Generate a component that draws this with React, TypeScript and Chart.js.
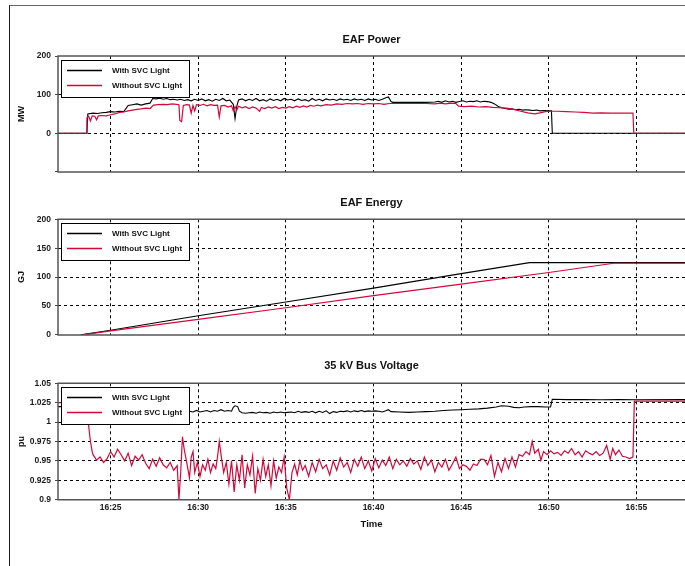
import React, { useEffect, useRef } from "react";
import { Chart, registerables } from "chart.js";

Chart.register(...registerables);

type Pair = [number, number];

const FONT = '"Liberation Sans", Arial, Helvetica, sans-serif';
const BLACK = "#000000";
const RED = "#d1093b";

const seriesLabels = ["With SVC Light", "Without SVC Light"];

// time in minutes after 16:00
const timeMin = 22;
const timeMax = 57.77;
const timeTicks = [25, 30, 35, 40, 45, 50, 55];
const timeTickLabels = ["16:25", "16:30", "16:35", "16:40", "16:45", "16:50", "16:55"];

const powerTicks = [-100, 0, 100, 200];
const powerTickLabels = ["", "0", "100", "200"];
const energyTicks = [0, 50, 100, 150, 200];
const energyTickLabels = ["0", "50", "100", "150", "200"];
const voltTicks = [0.9, 0.925, 0.95, 0.975, 1, 1.025, 1.05];
const voltTickLabels = ["0.9", "0.925", "0.95", "0.975", "1", "1.025", "1.05"];

// EAF Power (MW)
const powerWith: Pair[] = [
  [22, 0], [23.65, 0], [23.7, 50], [24.0, 52], [24.25, 51], [24.5, 53], [24.75, 54], [25.0, 56],
  [25.25, 55], [25.5, 57], [25.75, 56], [26.0, 72], [26.25, 74], [26.5, 76], [26.75, 73], [27.0, 76],
  [27.25, 78], [27.4, 90], [27.6, 89], [27.8, 91], [28.0, 88], [28.2, 90], [28.4, 87], [28.6, 88],
  [28.8, 86], [29.0, 88], [29.2, 85], [29.4, 87], [29.6, 84], [29.8, 88], [30.0, 85], [30.2, 89],
  [30.4, 84], [30.6, 87], [30.8, 83], [31.0, 88], [31.2, 85], [31.4, 90], [31.6, 84], [31.8, 86],
  [32.0, 75], [32.1, 38], [32.2, 70], [32.3, 86], [32.5, 89], [32.7, 84], [32.9, 88], [33.1, 85],
  [33.3, 90], [33.5, 84], [33.7, 87], [33.9, 83], [34.1, 89], [34.3, 85], [34.5, 88], [34.7, 84],
  [34.9, 90], [35.1, 86], [35.3, 88], [35.5, 84], [35.7, 89], [35.9, 85], [36.1, 87], [36.3, 83],
  [36.5, 90], [36.7, 85], [36.9, 88], [37.1, 84], [37.3, 89], [37.5, 86], [37.7, 88], [37.9, 85],
  [38.1, 89], [38.3, 86], [38.5, 88], [38.7, 85], [38.9, 89], [39.1, 86], [39.3, 88], [39.5, 85],
  [39.7, 89], [39.9, 86], [40.1, 88], [40.3, 85], [40.5, 88], [40.7, 92], [40.85, 94], [41.0, 82],
  [41.1, 80], [42.0, 80], [43.0, 80], [43.5, 81], [43.7, 83], [43.9, 80], [44.1, 84], [44.3, 81],
  [44.5, 83], [44.7, 80], [44.9, 82], [45.1, 84], [45.3, 81], [45.5, 83], [45.7, 82], [45.9, 84],
  [46.1, 81], [46.3, 83], [46.5, 82], [46.7, 80], [46.9, 76], [47.1, 70], [47.3, 66], [47.5, 64],
  [47.7, 62], [47.9, 63], [48.1, 61], [48.3, 62], [48.5, 60], [48.7, 61], [48.9, 60], [49.1, 59],
  [49.3, 60], [49.5, 58], [49.7, 59], [50.0, 58], [50.15, 58], [50.2, 0], [57.77, 0],
];

const powerWithout: Pair[] = [
  [22, 0], [23.6, 0], [23.65, 40], [23.75, 44], [23.85, 32], [23.95, 45], [24.1, 44], [24.2, 35],
  [24.3, 45], [24.5, 46], [24.75, 45], [25.0, 48], [25.25, 50], [25.5, 54], [25.75, 55], [26.0, 58],
  [26.25, 60], [26.5, 62], [26.75, 63], [27.0, 65], [27.25, 64], [27.45, 73], [27.7, 74], [28.0, 75],
  [28.25, 74], [28.5, 76], [28.75, 75], [28.9, 74], [28.95, 33], [29.05, 30], [29.15, 72], [29.35, 74],
  [29.5, 73], [29.6, 52], [29.7, 72], [29.8, 58], [29.9, 74], [30.1, 72], [30.3, 75], [30.5, 71],
  [30.7, 74], [30.9, 72], [31.1, 73], [31.2, 42], [31.3, 71], [31.5, 72], [31.7, 68], [31.9, 71],
  [32.0, 58], [32.1, 69], [32.2, 60], [32.3, 70], [32.5, 66], [32.7, 69], [32.9, 64], [33.1, 68],
  [33.3, 65], [33.5, 57], [33.6, 67], [33.8, 64], [34.0, 68], [34.2, 65], [34.4, 69], [34.6, 64],
  [34.8, 67], [35.0, 65], [35.2, 69], [35.4, 66], [35.6, 70], [35.8, 67], [36.0, 71], [36.2, 68],
  [36.4, 72], [36.6, 70], [36.8, 73], [37.0, 71], [37.3, 74], [37.6, 73], [37.9, 76], [38.2, 75],
  [38.5, 77], [38.8, 76], [39.1, 77], [39.4, 75], [39.7, 77], [40.0, 76], [40.3, 77], [40.6, 75],
  [40.9, 77], [41.2, 77], [42.0, 77], [43.0, 77], [43.5, 76], [43.8, 78], [44.1, 76], [44.4, 78],
  [44.7, 77], [44.85, 70], [45.2, 69], [45.6, 70], [46.0, 68], [46.4, 69], [46.8, 67], [47.2, 66],
  [47.6, 65], [48.0, 62], [48.4, 57], [48.8, 53], [49.2, 50], [49.5, 53], [49.8, 56], [50.0, 57],
  [50.5, 57], [51.0, 56], [51.5, 55], [52.0, 54], [52.5, 52], [53.0, 53], [53.5, 52], [54.0, 52],
  [54.5, 52], [54.8, 52], [54.85, 0], [57.77, 0],
];

// EAF Energy (GJ)
const energyWith: Pair[] = [
  [23.3, 0], [25, 8], [30, 33], [35, 57], [40, 81], [45, 106], [48.9, 125], [57.77, 125],
];
const energyWithout: Pair[] = [
  [23.4, 0], [25, 7], [30, 27], [35, 47], [40, 68], [45, 88], [50, 108], [53.7, 124], [57.77, 124],
];

// 35 kV Bus Voltage (pu)
const voltWith: Pair[] = [
  [22, 1.02], [23.65, 1.02], [23.7, 1.014], [25, 1.0145], [26, 1.0135], [27, 1.0145], [28, 1.014],
  [29, 1.0135], [29.5, 1.014], [29.7, 1.013], [29.9, 1.015], [30.1, 1.013], [30.3, 1.014], [30.5, 1.015],
  [30.7, 1.013], [30.9, 1.015], [31.1, 1.014], [31.3, 1.016], [31.5, 1.014], [31.7, 1.015], [31.9, 1.014],
  [32.0, 1.019], [32.1, 1.021], [32.25, 1.02], [32.35, 1.014], [32.5, 1.012], [32.7, 1.0115], [32.9, 1.012],
  [33.1, 1.0125], [33.3, 1.0115], [33.5, 1.013], [33.7, 1.012], [33.9, 1.0125], [34.1, 1.0115], [34.3, 1.013],
  [34.5, 1.012], [34.7, 1.013], [34.9, 1.012], [35.1, 1.0125], [35.3, 1.013], [35.5, 1.012], [35.7, 1.014],
  [35.9, 1.0125], [36.1, 1.0135], [36.3, 1.0125], [36.5, 1.014], [36.7, 1.012], [36.9, 1.014], [37.1, 1.0125],
  [37.3, 1.0145], [37.5, 1.011], [37.7, 1.0135], [37.9, 1.0125], [38.1, 1.014], [38.3, 1.0135], [38.5, 1.0145],
  [38.7, 1.013], [38.9, 1.0145], [39.1, 1.0135], [39.3, 1.015], [39.5, 1.0135], [39.7, 1.0145], [39.9, 1.014],
  [40.1, 1.0145], [40.3, 1.014], [40.5, 1.013], [40.7, 1.0145], [40.85, 1.016], [41.0, 1.0135], [41.5, 1.013],
  [42.0, 1.0125], [42.5, 1.013], [43.0, 1.0135], [43.5, 1.014], [44.0, 1.015], [44.5, 1.0155], [45.0, 1.016],
  [45.5, 1.0165], [46.0, 1.017], [46.5, 1.018], [47.0, 1.0195], [47.3, 1.021], [47.7, 1.0205], [48.0, 1.019],
  [48.3, 1.0185], [48.6, 1.0195], [49.0, 1.02], [49.4, 1.02], [49.8, 1.0195], [50.1, 1.0195], [50.2, 1.0295],
  [51.0, 1.029], [52.0, 1.0292], [53.0, 1.0288], [54.0, 1.029], [55.0, 1.0288], [57.77, 1.029],
];

const voltWithout: Pair[] = [
  [22, 1.025], [23.55, 1.025], [23.65, 1.015], [23.75, 0.995], [23.85, 0.975], [23.95, 0.962],
  [24.0, 0.958], [24.2, 0.951], [24.4, 0.955], [24.6, 0.948], [24.8, 0.953], [25.0, 0.962], [25.2, 0.955],
  [25.4, 0.965], [25.6, 0.958], [25.8, 0.95], [26.0, 0.96], [26.2, 0.944], [26.4, 0.956], [26.6, 0.951],
  [26.8, 0.958], [27.0, 0.947], [27.2, 0.94], [27.4, 0.952], [27.6, 0.943], [27.8, 0.954], [28.0, 0.945],
  [28.2, 0.941], [28.4, 0.948], [28.6, 0.938], [28.8, 0.944], [28.9, 0.9], [29.0, 0.935], [29.1, 0.981],
  [29.2, 0.965], [29.35, 0.947], [29.5, 0.928], [29.6, 0.955], [29.7, 0.962], [29.8, 0.935], [29.95, 0.948],
  [30.1, 0.93], [30.25, 0.945], [30.4, 0.938], [30.55, 0.952], [30.7, 0.935], [30.85, 0.946], [31.0, 0.94],
  [31.1, 0.955], [31.2, 0.975], [31.3, 0.958], [31.45, 0.935], [31.6, 0.948], [31.75, 0.92], [31.9, 0.95],
  [32.05, 0.91], [32.2, 0.945], [32.35, 0.925], [32.5, 0.958], [32.65, 0.915], [32.8, 0.945], [32.95, 0.932],
  [33.1, 0.956], [33.25, 0.908], [33.4, 0.94], [33.55, 0.925], [33.7, 0.952], [33.85, 0.93], [34.0, 0.945],
  [34.15, 0.918], [34.3, 0.95], [34.45, 0.928], [34.6, 0.942], [34.75, 0.935], [34.9, 0.955], [35.05, 0.915],
  [35.2, 0.9], [35.35, 0.935], [35.5, 0.946], [35.65, 0.932], [35.8, 0.95], [35.95, 0.938], [36.1, 0.944],
  [36.3, 0.93], [36.5, 0.948], [36.7, 0.936], [36.9, 0.952], [37.1, 0.94], [37.3, 0.945], [37.5, 0.932],
  [37.7, 0.95], [37.9, 0.938], [38.1, 0.954], [38.3, 0.942], [38.5, 0.948], [38.7, 0.935], [38.9, 0.952],
  [39.1, 0.943], [39.3, 0.955], [39.5, 0.94], [39.7, 0.95], [39.9, 0.937], [40.1, 0.953], [40.3, 0.941],
  [40.5, 0.951], [40.7, 0.944], [40.9, 0.955], [41.1, 0.94], [41.3, 0.952], [41.5, 0.945], [41.7, 0.95],
  [41.9, 0.943], [42.1, 0.953], [42.3, 0.946], [42.5, 0.95], [42.7, 0.939], [42.9, 0.955], [43.1, 0.944],
  [43.3, 0.951], [43.5, 0.936], [43.7, 0.948], [43.9, 0.942], [44.1, 0.952], [44.3, 0.938], [44.5, 0.946],
  [44.7, 0.955], [44.9, 0.94], [45.1, 0.945], [45.3, 0.943], [45.5, 0.938], [45.7, 0.946], [45.9, 0.944],
  [46.1, 0.952], [46.3, 0.952], [46.5, 0.945], [46.7, 0.957], [46.9, 0.93], [47.1, 0.948], [47.3, 0.936],
  [47.5, 0.953], [47.7, 0.94], [47.9, 0.955], [48.1, 0.942], [48.3, 0.958], [48.5, 0.956], [48.7, 0.962],
  [48.9, 0.958], [49.05, 0.975], [49.2, 0.96], [49.4, 0.965], [49.55, 0.951], [49.7, 0.962], [49.9, 0.958],
  [50.1, 0.963], [50.3, 0.959], [50.5, 0.961], [50.7, 0.957], [50.9, 0.963], [51.1, 0.96], [51.3, 0.966],
  [51.5, 0.958], [51.7, 0.962], [51.9, 0.955], [52.1, 0.963], [52.3, 0.96], [52.5, 0.958], [52.7, 0.962],
  [52.9, 0.957], [53.1, 0.96], [53.3, 0.97], [53.5, 0.952], [53.65, 0.966], [53.8, 0.958], [54.0, 0.964],
  [54.2, 0.956], [54.4, 0.955], [54.6, 0.953], [54.8, 0.955], [54.88, 1.027], [57.77, 1.027],
];

interface PanelSpec {
  title: string;
  yTitle: string;
  yMin: number;
  yMax: number;
  yTicks: number[];
  yTickLabels: string[];
  withData: Pair[];
  withoutData: Pair[];
  titleTop: number;
  titleBottom: number;
  xHeight: number;
  showX: boolean;
  top: number;
  height: number;
}

const panels: PanelSpec[] = [
  {
    title: "EAF Power", yTitle: "MW", yMin: -100, yMax: 200,
    yTicks: powerTicks, yTickLabels: powerTickLabels,
    withData: powerWith, withoutData: powerWithout,
    titleTop: 13.4, titleBottom: 9.4, xHeight: 8, showX: false, top: 20, height: 161,
  },
  {
    title: "EAF Energy", yTitle: "GJ", yMin: 0, yMax: 200,
    yTicks: energyTicks, yTickLabels: energyTickLabels,
    withData: energyWith, withoutData: energyWithout,
    titleTop: 13.7, titleBottom: 9.4, xHeight: 8, showX: false, top: 183, height: 161,
  },
  {
    title: "35 kV Bus Voltage", yTitle: "pu", yMin: 0.9, yMax: 1.05,
    yTicks: voltTicks, yTickLabels: voltTickLabels,
    withData: voltWith, withoutData: voltWithout,
    titleTop: 13.4, titleBottom: 10.7, xHeight: 32.3, showX: true, top: 346, height: 186,
  },
];

const panelDecor = {
  id: "panelDecor",
  afterDatasetsDraw(chart: any) {
    const { ctx, chartArea: a } = chart;
    ctx.save();
    // legend box
    const lx = a.left + 3;
    const ly = a.top + 4;
    const lw = 128;
    const lh = 37;
    ctx.setLineDash([]);
    ctx.fillStyle = "#ffffff";
    ctx.fillRect(lx, ly, lw, lh);
    ctx.strokeStyle = "#000000";
    ctx.lineWidth = 1;
    ctx.strokeRect(Math.round(lx) + 0.5, Math.round(ly) + 0.5, lw, lh);
    chart.data.datasets.forEach((ds: any, i: number) => {
      const yy = Math.round(ly + 10 + i * 15) + 0.5;
      ctx.strokeStyle = ds.borderColor;
      ctx.lineWidth = 1.6;
      ctx.beginPath();
      ctx.moveTo(lx + 6, yy);
      ctx.lineTo(lx + 41, yy);
      ctx.stroke();
      ctx.fillStyle = "#111111";
      ctx.font = `bold 8px ${FONT}`;
      ctx.textAlign = "left";
      ctx.textBaseline = "middle";
      ctx.fillText(ds.label, lx + 51, yy);
    });
    // plot frame (top, left, bottom)
    ctx.strokeStyle = "#555555";
    ctx.lineWidth = 1.5;
    ctx.beginPath();
    ctx.moveTo(a.right + 2, a.top);
    ctx.lineTo(a.left, a.top);
    ctx.lineTo(a.left, a.bottom);
    ctx.lineTo(a.right + 2, a.bottom);
    ctx.stroke();
    ctx.restore();
  },
};

function buildConfig(spec: PanelSpec): any {
  const toXY = (d: Pair[]) => d.map(([x, y]) => ({ x, y }));
  return {
    type: "line",
    data: {
      datasets: [
        {
          label: seriesLabels[0], data: toXY(spec.withData), borderColor: BLACK,
          borderWidth: 1.1, pointRadius: 0, tension: 0, fill: false, order: 1,
        },
        {
          label: seriesLabels[1], data: toXY(spec.withoutData), borderColor: RED,
          borderWidth: 1.2, pointRadius: 0, tension: 0, fill: false, order: 0,
        },
      ],
    },
    options: {
      responsive: false,
      animation: false,
      events: [],
      layout: { padding: 0 },
      plugins: {
        legend: { display: false },
        tooltip: { enabled: false },
        title: {
          display: true, text: spec.title, fullSize: false, color: "#111111",
          font: { family: FONT, size: 11, weight: "bold", lineHeight: 1.2 },
          padding: { top: spec.titleTop, bottom: spec.titleBottom },
        },
      },
      scales: {
        x: {
          type: "linear", min: timeMin, max: timeMax,
          afterBuildTicks: (s: any) => { s.ticks = timeTicks.map((v) => ({ value: v })); },
          afterFit: (s: any) => { s.height = spec.xHeight; },
          grid: { color: "#000000", lineWidth: 1, drawTicks: false },
          border: { display: false, dash: [3, 3] },
          ticks: {
            display: spec.showX, autoSkip: false, maxRotation: 0, padding: 3, color: "#1a1a1a",
            font: { family: FONT, size: 8.5, weight: "bold" },
            callback: (_v: any, i: number) => timeTickLabels[i],
          },
          title: {
            display: spec.showX, text: "Time", color: "#111111",
            font: { family: FONT, size: 9.5, weight: "bold", lineHeight: 1.2 },
            padding: { top: 0, bottom: 2 },
          },
        },
        y: {
          type: "linear", min: spec.yMin, max: spec.yMax,
          afterBuildTicks: (s: any) => { s.ticks = spec.yTicks.map((v) => ({ value: v })); },
          afterFit: (s: any) => { s.width = 48; },
          grid: {
            color: (c: any) =>
              c.tick && (c.tick.value === spec.yMin || c.tick.value === spec.yMax) ? "rgba(0,0,0,0)" : "#000000",
            lineWidth: 1, drawTicks: true, tickLength: 3, tickColor: "#444444", tickWidth: 1, tickBorderDash: [],
          },
          border: { display: false, dash: [3, 3] },
          ticks: {
            padding: 4, color: "#1a1a1a",
            font: { family: FONT, size: 8.5, weight: "bold" },
            callback: (_v: any, i: number) => spec.yTickLabels[i],
          },
          title: {
            display: true, text: spec.yTitle, color: "#111111",
            font: { family: FONT, size: 9, weight: "bold", lineHeight: 1.2 },
            padding: { top: 6.6, bottom: 0 },
          },
        },
      },
    },
    plugins: [panelDecor],
  };
}

function Panel({ spec }: { spec: PanelSpec }) {
  const ref = useRef<HTMLCanvasElement>(null);
  useEffect(() => {
    const chart = new Chart(ref.current as HTMLCanvasElement, buildConfig(spec));
    return () => chart.destroy();
  }, [spec]);
  return (
    <canvas
      ref={ref}
      width={675}
      height={spec.height}
      style={{ position: "absolute", left: 10, top: spec.top, width: 675, height: spec.height }}
    />
  );
}

export default function App() {
  return (
    <div
      style={{
        position: "fixed", left: 0, top: 0, width: 685, height: 566,
        background: "#ffffff", overflow: "hidden",
      }}
    >
      <div
        style={{
          position: "absolute", left: 9, top: 5, width: 676, height: 561,
          borderTop: "1.5px solid #666666", borderLeft: "1px solid #1a1a1a", boxSizing: "border-box",
        }}
      />
      {panels.map((p) => (
        <Panel key={p.title} spec={p} />
      ))}
    </div>
  );
}
